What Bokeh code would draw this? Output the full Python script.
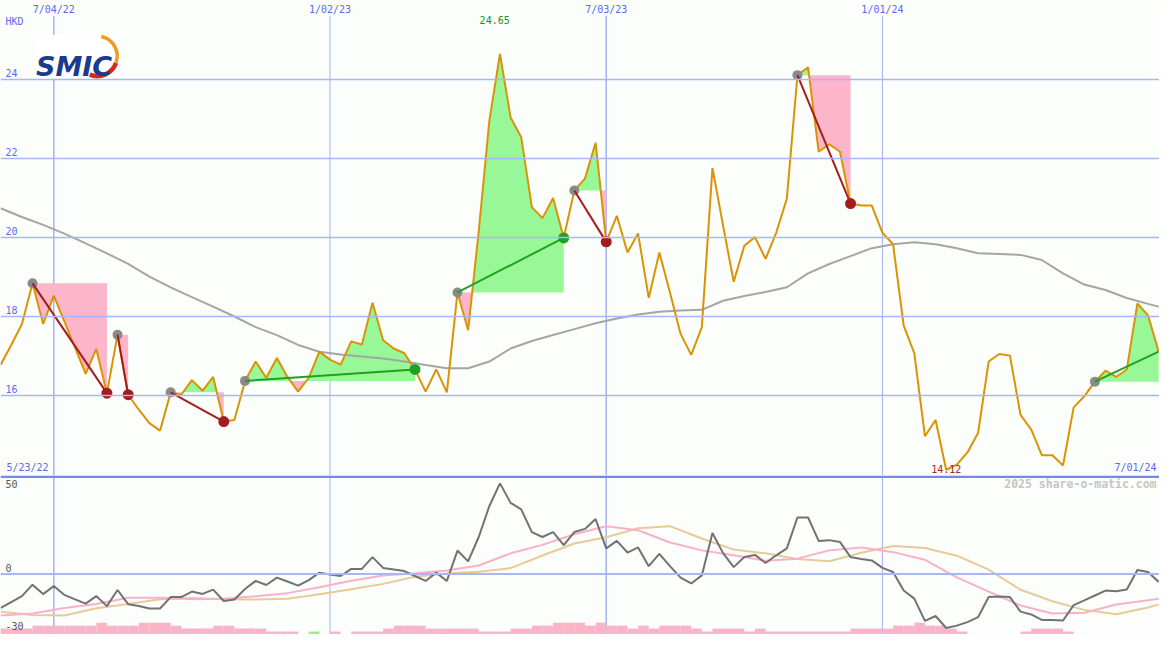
import numpy as np
import pandas as pd
from bokeh.plotting import figure
from bokeh.layouts import column
from bokeh.models import Range1d, Span
from bokeh.core.properties import value
from bokeh.embed import file_html
from bokeh.resources import INLINE

# ---------------- data ----------------
start_date = "2022-05-23"                      # week 0
tick_dates = ["2022-07-04", "2023-01-02", "2023-07-03", "2024-01-01"]
tick_labels = ["7/04/22", "1/02/23", "7/03/23", "1/01/24"]
first_label = "5/23/22"
last_label = "7/01/24"
currency = "HKD"
price_ticks = [16, 18, 20, 22, 24]
osc_ticks = [50, 0, -30]
brand = "SMIC"
credit = "2025 share-o-matic.com"

# weekly closes, week 1 .. week 110
price = [16.78, 17.28, 17.81, 18.84, 17.81, 18.53, 17.87, 17.21, 16.55, 17.18,
         16.06, 17.54, 16.02, 15.64, 15.30, 15.11, 16.08, 16.02, 16.39, 16.12,
         16.47, 15.34, 15.38, 16.37, 16.86, 16.45, 16.95, 16.47, 16.10, 16.45,
         17.11, 16.91, 16.78, 17.37, 17.29, 18.35, 17.40, 17.19, 17.07, 16.66,
         16.10, 16.66, 16.08, 18.61, 17.65, 20.16, 22.96, 24.65, 23.04, 22.54,
         20.77, 20.49, 21.00, 19.99, 21.19, 21.49, 22.40, 19.89, 20.55, 19.62,
         20.10, 18.47, 19.62, 18.61, 17.56, 17.03, 17.73, 21.76, 20.30, 18.88,
         19.79, 20.01, 19.46, 20.12, 20.98, 24.11, 24.31, 22.17, 22.36, 22.17,
         20.86, 20.81, 20.81, 20.12, 19.83, 17.77, 17.07, 14.97, 15.38, 14.12,
         14.25, 14.56, 15.05, 16.86, 17.05, 17.01, 15.51, 15.14, 14.49, 14.49,
         14.23, 15.70, 15.98, 16.35, 16.63, 16.47, 16.66, 18.33, 18.03, 17.11]

# moving average of the price (read every second week)
ma_weeks = list(range(1, 110, 2)) + [110]
ma_vals = [20.74, 20.52, 20.32, 20.10, 19.85, 19.60, 19.33, 19.01, 18.74, 18.49,
           18.25, 18.00, 17.73, 17.53, 17.28, 17.11, 17.04, 16.99, 16.94, 16.86,
           16.77, 16.69, 16.69, 16.86, 17.19, 17.38, 17.53, 17.68, 17.83, 17.95,
           18.05, 18.12, 18.15, 18.17, 18.40, 18.52, 18.62, 18.74, 19.09, 19.33,
           19.53, 19.73, 19.83, 19.88, 19.83, 19.73, 19.60, 19.58, 19.56, 19.43,
           19.09, 18.81, 18.67, 18.47, 18.32, 18.25]

# oscillator, week 1 .. week 110
osc = [-17.2, -14.2, -11.2, -5.4, -10.2, -6.1, -10.6, -12.9, -15.0, -11.2,
       -16.3, -8.1, -15.3, -16.2, -17.5, -17.5, -11.7, -11.7, -8.9, -10.1,
       -7.9, -13.7, -12.9, -7.6, -3.5, -5.6, -1.8, -3.8, -5.9, -3.1,
       0.7, -0.2, -1.0, 2.6, 2.6, 8.6, 3.1, 2.3, 1.5, -1.0,
       -3.5, 0.7, -3.5, 11.9, 6.4, 18.8, 34.5, 46.0, 36.1, 32.8,
       21.3, 18.8, 21.3, 14.7, 21.3, 22.9, 27.9, 13.0, 16.8, 10.9,
       13.5, 4.0, 10.2, 4.0, -1.8, -4.8, -0.7, 20.8, 10.6, 3.5,
       8.6, 9.7, 5.6, 9.5, 13.0, 28.7, 28.7, 16.8, 17.2, 16.3,
       8.6, 7.6, 6.9, 3.1, 1.0, -8.4, -12.5, -23.8, -21.3, -27.4,
       -26.2, -24.4, -21.9, -11.7, -11.4, -11.7, -19.1, -20.5, -23.3, -23.3,
       -23.6, -15.8, -13.4, -10.9, -8.4, -8.7, -7.9, 2.0, 1.0, -4.0]

# two smoothed signal lines (read every third week)
sig_weeks = list(range(1, 110, 3)) + [110]
osc_pink = [-21.1, -20.0, -17.3, -15.2, -12.0, -12.0, -12.8, -12.6, -11.3, -9.7,
            -6.7, -3.4, -0.8, 0.4, 1.8, 4.3, 10.5, 14.8, 20.2, 24.2,
            22.2, 16.0, 12.0, 9.5, 6.7, 7.8, 12.0, 13.5, 11.1, 7.2,
            -1.7, -8.9, -16.0, -20.0, -19.7, -15.5, -13.3, -12.5]
osc_tan = [-19.2, -20.8, -21.0, -17.4, -15.2, -12.8, -12.2, -12.8, -12.9, -12.5,
           -10.3, -7.7, -5.0, -1.4, 0.3, 1.1, 3.0, 9.4, 15.5, 18.7,
           23.2, 24.3, 18.0, 12.4, 10.5, 7.6, 6.5, 10.8, 14.2, 13.2,
           9.3, 2.2, -8.0, -13.8, -18.2, -20.4, -17.0, -15.4]

# histogram at the foot of the lower panel, week 1 .. week 110
bar_vals = [3.0, 3.0, 3.0, 3.0, 4.5, 4.5, 4.5, 4.5, 4.5, 4.5,
            6.0, 4.5, 4.5, 4.5, 6.0, 6.0, 6.0, 4.5, 3.0, 3.0,
            3.0, 4.5, 4.5, 3.0, 3.0, 3.0, 1.5, 1.5, 1.5, 0.0,
            1.5, 0.0, 1.5, 0.0, 1.5, 1.5, 1.5, 3.0, 4.5, 4.5,
            4.5, 3.0, 3.0, 3.0, 3.0, 3.0, 1.5, 1.5, 1.5, 3.0,
            3.0, 4.5, 4.5, 6.0, 6.0, 6.0, 4.5, 6.0, 4.5, 4.5,
            3.0, 4.5, 3.0, 4.5, 4.5, 4.5, 3.0, 1.5, 3.0, 3.0,
            3.0, 1.5, 3.0, 1.5, 1.5, 1.5, 1.5, 1.5, 1.5, 1.5,
            1.5, 3.0, 3.0, 3.0, 3.0, 4.5, 4.5, 6.0, 4.5, 4.5,
            3.0, 1.5, 0.0, 0.0, 0.0, 0.0, 0.0, 1.5, 3.0, 3.0,
            3.0, 1.5, 0.0, 0.0, 0.0, 0.0, 0.0, 0.0, 0.0, 0.0]
bar_green_weeks = [31]

# trades: entry week, exit week (last one still open)
entry_weeks = [4, 12, 17, 24, 44, 55, 76, 104]
exit_weeks = [11, 13, 22, 40, 54, 58, 81, 110]
trade_open = [False, False, False, False, False, False, False, True]

# ---------------- geometry / style ----------------
W, H = 1159, 634
REF_W, REF_H, REF_SPLIT = 1175, 650, 487
H1 = round(H * REF_SPLIT / REF_H)
H2 = H - H1
X0, X1 = 0.984, 110.08
Y1_TOP = 26.0
PX_HKD = 40.5                       # reference px per HKD
Y1_BOT = Y1_TOP - REF_SPLIT / PX_HKD
Y2_TOP, PX_OSC = 50.0, 2.02
Y2_BOT = Y2_TOP - (REF_H - REF_SPLIT) / PX_OSC


def fx(xpx):
    return X0 + xpx * (X1 - X0) / REF_W


def fy1(ypx):
    return Y1_TOP - ypx / PX_HKD


def fy2(ypx):
    return Y2_TOP - (ypx - REF_SPLIT) / PX_OSC


BG = "#fbfefb"
GRID = "#a9b6f3"
SEP = "#7886e6"
LBL = "#5b69ee"
ORANGE = "#db9305"
GFILL = "#98f898"
PFILL = "#fdb5c9"
MAGRAY = "#a5a5a5"
OSCGRAY = "#727272"
OPINK = "#fab0c8"
OTAN = "#e7ca98"
LOSS = "#a31d1d"
WIN = "#22a022"
DOTGRAY = "#8a8a8a"
MONO = value("DejaVu Sans Mono")

start = pd.Timestamp(start_date)
tick_weeks = [(pd.Timestamp(d) - start).days / 7 for d in tick_dates]
weeks = np.arange(1, len(price) + 1)
pr = np.array(price)


def fig(h, y0, y1):
    p = figure(width=W, height=h, x_range=Range1d(X0, X1), y_range=Range1d(y0, y1),
               output_backend="svg", toolbar_location=None,
               x_axis_location=None, y_axis_location=None, min_border=0,
               background_fill_color=BG, border_fill_color=BG, outline_line_color=None)
    p.xgrid.visible = False
    p.ygrid.visible = False
    return p


# ---------------- price panel ----------------
p1 = fig(H1, Y1_BOT, Y1_TOP)
vw = [1.6, 1.1, 1.6, 1.1]
p1.segment(x0=tick_weeks, y0=[Y1_BOT] * 4, x1=tick_weeks, y1=[fy1(16)] * 4,
           line_color=GRID, line_width=vw)
for v in price_ticks:
    p1.add_layout(Span(location=v, dimension="width", line_color=GRID, line_width=1.6))

# trade fills
for a, b in zip(entry_weeks, exit_weeks):
    level = pr[a - 1]
    xs = list(weeks[a - 1:b].astype(float))
    ys = list(pr[a - 1:b])
    X, Y = [xs[0]], [ys[0]]
    for i in range(1, len(xs)):
        y0, y1 = ys[i - 1], ys[i]
        if (y0 - level) * (y1 - level) < 0:
            t = (level - y0) / (y1 - y0)
            X.append(xs[i - 1] + t * (xs[i] - xs[i - 1]))
            Y.append(level)
        X.append(xs[i])
        Y.append(ys[i])
    X = np.array(X)
    Y = np.array(Y)
    L = np.full_like(Y, level)
    p1.varea(x=X, y1=L, y2=np.maximum(Y, L), fill_color=GFILL)
    p1.varea(x=X, y1=np.minimum(Y, L), y2=L, fill_color=PFILL)

p1.line(ma_weeks, ma_vals, line_color=MAGRAY, line_width=2)
p1.line(weeks, pr, line_color=ORANGE, line_width=2)

# trade links and markers
for a, b, op in zip(entry_weeks, exit_weeks, trade_open):
    ea, eb = pr[a - 1], pr[b - 1]
    col = WIN if eb > ea else LOSS
    p1.scatter([a], [ea], size=10, fill_color=DOTGRAY, line_color=None)
    p1.line([a, b], [ea, eb], line_color=col, line_width=2)
    if not op:
        p1.scatter([b], [eb], size=11, fill_color=col, line_color=None)

# logo
p1.quad(left=fx(35), right=fx(121), top=fy1(35), bottom=fy1(80),
        fill_color="white", line_color=None)
p1.arc(x=[fx(98)], y=[fy1(57)], radius=20, radius_units="screen",
       start_angle=np.radians(78), end_angle=np.radians(-20), direction="clock",
       line_color="#f29a1c", line_width=3.5)
p1.arc(x=[fx(98)], y=[fy1(57)], radius=20, radius_units="screen",
       start_angle=np.radians(-20), end_angle=np.radians(-112), direction="clock",
       line_color="#d8261b", line_width=4.5)
p1.text(x=[fx(36)], y=[fy1(68)], text=[brand], text_font=value("DejaVu Sans"),
        text_font_style="bold italic", text_font_size="27px", text_color="#1b3c8e",
        text_align="left", text_baseline="alphabetic")

# labels
p1.text(x=tick_weeks, y=[fy1(9)] * 4, text=tick_labels, text_font=MONO,
        text_font_size="10px", text_color=LBL, text_align="center", text_baseline="middle")
p1.text(x=[fx(5)], y=[fy1(22)], text=[currency], text_font=MONO, text_font_size="10px",
        text_color=LBL, text_align="left", text_baseline="middle")
p1.text(x=[fx(5)] * len(price_ticks), y=[v + 3 / PX_HKD for v in price_ticks],
        text=[str(v) for v in price_ticks], text_font=MONO, text_font_size="10px",
        text_color=LBL, text_align="left", text_baseline="bottom")
p1.text(x=[fx(6)], y=[fy1(484)], text=[first_label], text_font=MONO, text_font_size="10px",
        text_color=LBL, text_align="left", text_baseline="bottom")
p1.text(x=[fx(1172)], y=[fy1(484)], text=[last_label], text_font=MONO, text_font_size="10px",
        text_color=LBL, text_align="right", text_baseline="bottom")
imax, imin = int(np.argmax(pr)), int(np.argmin(pr))
p1.text(x=[weeks[imax] - 0.5], y=[fy1(20)], text=[f"{pr[imax]:.2f}"], text_font=MONO,
        text_font_size="10px", text_color="#229022", text_align="center", text_baseline="middle")
p1.text(x=[weeks[imin]], y=[fy1(484)], text=[f"{pr[imin]:.2f}"], text_font=MONO,
        text_font_size="10px", text_color="#a82222", text_align="center", text_baseline="bottom")

# ---------------- oscillator panel ----------------
p2 = fig(H2, Y2_BOT, Y2_TOP)
p2.segment(x0=tick_weeks, y0=[Y2_BOT] * 4, x1=tick_weeks, y1=[Y2_TOP] * 4,
           line_color=GRID, line_width=vw)
p2.add_layout(Span(location=0, dimension="width", line_color=GRID, line_width=2))
p2.add_layout(Span(location=Y2_TOP - 0.6, dimension="width", line_color=SEP, line_width=2.5))

bv = np.array(bar_vals)
bcol = [WIN if w in bar_green_weeks else PFILL for w in weeks]
bcol = ["#90f090" if w in bar_green_weeks else "#f9b4c8" for w in weeks]
mask = bv > 0
p2.vbar(x=(weeks - 0.5)[mask], width=1.0, bottom=Y2_BOT, top=(Y2_BOT + bv)[mask],
        fill_color=[c for c, m in zip(bcol, mask) if m], line_color=None)

p2.line(sig_weeks, osc_tan, line_color=OTAN, line_width=2)
p2.line(sig_weeks, osc_pink, line_color=OPINK, line_width=2)
p2.line(weeks, osc, line_color=OSCGRAY, line_width=2)

p2.text(x=[fx(5)] * 3, y=[fy2(496), fy2(582), fy2(641)], text=[str(v) for v in osc_ticks],
        text_font=MONO, text_font_size="10px", text_color="#555555",
        text_align="left", text_baseline="middle")
p2.text(x=[fx(1172)], y=[fy2(496)], text=[credit], text_font=MONO, text_font_size="11.5px",
        text_font_style="bold", text_color="#c6c6c6", text_align="right", text_baseline="middle")

layout = column(p1, p2, spacing=0)
open("out.html", "w").write(file_html(layout, INLINE))
